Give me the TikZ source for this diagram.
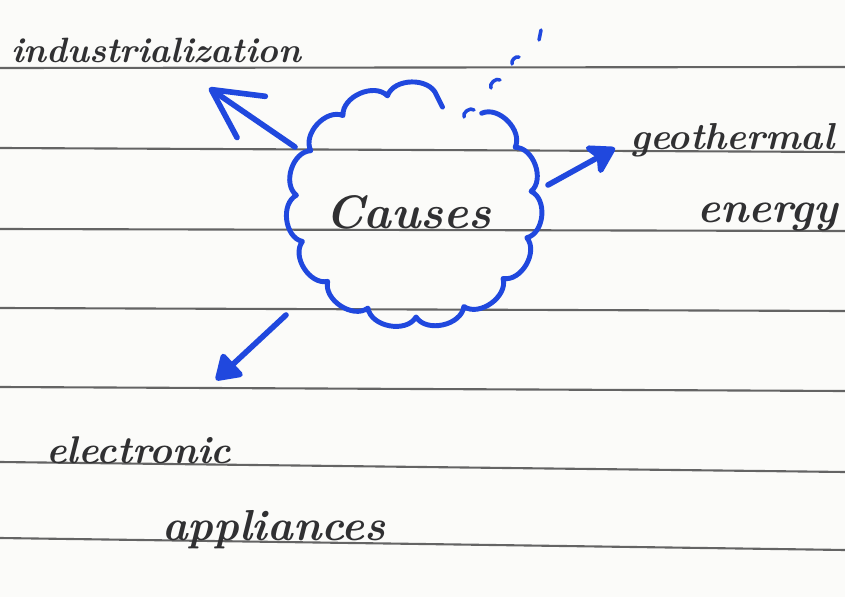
\documentclass[tikz,border=0pt]{standalone}
\usepackage{tikz}
\usepackage{xcolor}
\usetikzlibrary{arrows.meta,calc}
\definecolor{pen}{RGB}{32,72,222}
\definecolor{ink}{RGB}{48,48,50}
\definecolor{rule}{RGB}{100,100,100}
\definecolor{paper}{RGB}{251,251,249}

\begin{document}
\begin{tikzpicture}[x=0.03cm, y=-0.03cm,
        hand/.style={font=\fontsize{#1}{#1}\selectfont\bfseries\itshape, text=ink, inner sep=0pt, anchor=base west},
        cloudline/.style={pen, line width=4.2pt, line cap=round, line join=round},
        shaft/.style={pen, line width=4.8pt, line cap=round}]
            \fill[color=paper] (0,0) rectangle (845,597);
            \useasboundingbox (0,0) rectangle (845,597);
            \foreach \yl/\yr in {68/67, 148/152, 229/231, 308/311, 387/391, 462/472, 538/550}{
                    \draw[color=rule, line width=1.8pt] (0,\yl) -- (845,\yr); % lignes du cahier
                }
            \coordinate (c) at (414,205);
            \draw[cloudline] ($(c)+(-55:118 and 112)$)
                \foreach \a in {-31,-7,...,281}{ to[bend left=70] ($(c)+(\a:118 and 112)$) } -- ++(6,12);
            \draw[cloudline, line width=3pt] (464,117) to[bend left=80] (474,110);
            \draw[cloudline, line width=3pt] (491,88) to[bend left=80] (500,80);
            \draw[cloudline, line width=3pt] (512,64) to[bend left=60] (519,57);
            \draw[cloudline, line width=3pt] (541,30) -- (539,40);

            \node[hand=30] (ind) at (11,63) {industrialization};
            \node[hand=40] (causes) at (325,228) {Causes};
            \node[hand=32] (geo) at (630,150) {geothermal};
            \node[hand=37] (energy) at (697,222) {energy};
            \node[hand=33] (elec) at (46,463) {electronic};
            \node[hand=37] (appl) at (162,540) {appliances};

            \coordinate (cl-nw) at (295,147);
            \coordinate (tip-ind) at (209,88);
            \coordinate (cl-e) at (548,185);
            \coordinate (tip-geo) at (615,148);
            \coordinate (cl-sw) at (286,315);
            \coordinate (tip-elec) at (216,380);
            \draw[shaft, -{Straight Barb[length=1.45cm, width=1.5cm, round]}] (cl-nw) -- (tip-ind);
            \draw[shaft, -{Stealth[length=0.95cm, width=1.15cm, inset=0.25cm, round]}] (cl-e) -- (tip-geo);
            \draw[shaft, -{Triangle[length=0.8cm, width=1cm, round]}] (cl-sw) -- (tip-elec);

        \end{tikzpicture}
\end{document}
